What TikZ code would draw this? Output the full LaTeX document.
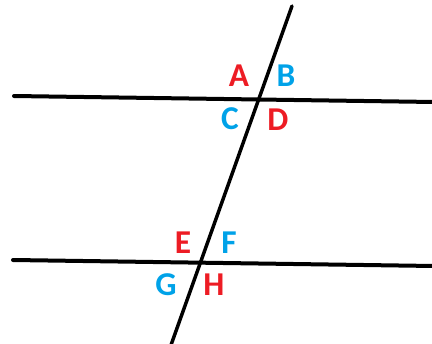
\documentclass[tikz,border=0pt]{standalone}
\usepackage{fontspec}
\setmainfont{Carlito}
\usepackage{xcolor}
\usepackage{tikz}
\usetikzlibrary{calc}
\definecolor{anglered}{RGB}{237,28,36}
\definecolor{angleblue}{RGB}{0,162,232}
\tikzset{
  parline/.style={line width=3pt, black, line cap=round},
  transline/.style={line width=2.6pt, black, line cap=round},
  redlbl/.style={text=anglered, font=\fontsize{25}{28}\selectfont\bfseries, inner sep=0pt},
  bluelbl/.style={text=angleblue, font=\fontsize{25}{28}\selectfont\bfseries, inner sep=0pt}
}
\begin{document}
\begin{tikzpicture}[x=0.75pt,y=-0.75pt]
  \useasboundingbox (0,0) rectangle (432,343);
  \coordinate (l1w) at (14,96);
  \coordinate (l1e) at (434,102);
  \coordinate (l2w) at (13,260);
  \coordinate (l2e) at (434,266);
  \coordinate (tn) at (292,6);
  \coordinate (ts) at (171,345);

  \draw[parline] (l1w) -- (l1e);
  \draw[parline] (l2w) -- (l2e);
  \draw[transline] (tn) -- (ts);

  \node[redlbl] (A) at (239,76) {A};
  \node[bluelbl] (B) at (286,76) {B};
  \node[bluelbl] (C) at (230,119) {C};
  \node[redlbl] (D) at (278,120) {D};
  \node[redlbl] (E) at (183,243) {E};
  \node[bluelbl] (F) at (229,243) {F};
  \node[bluelbl] (G) at (166,285) {G};
  \node[redlbl] (H) at (214,285) {H};
\end{tikzpicture}
\end{document}
